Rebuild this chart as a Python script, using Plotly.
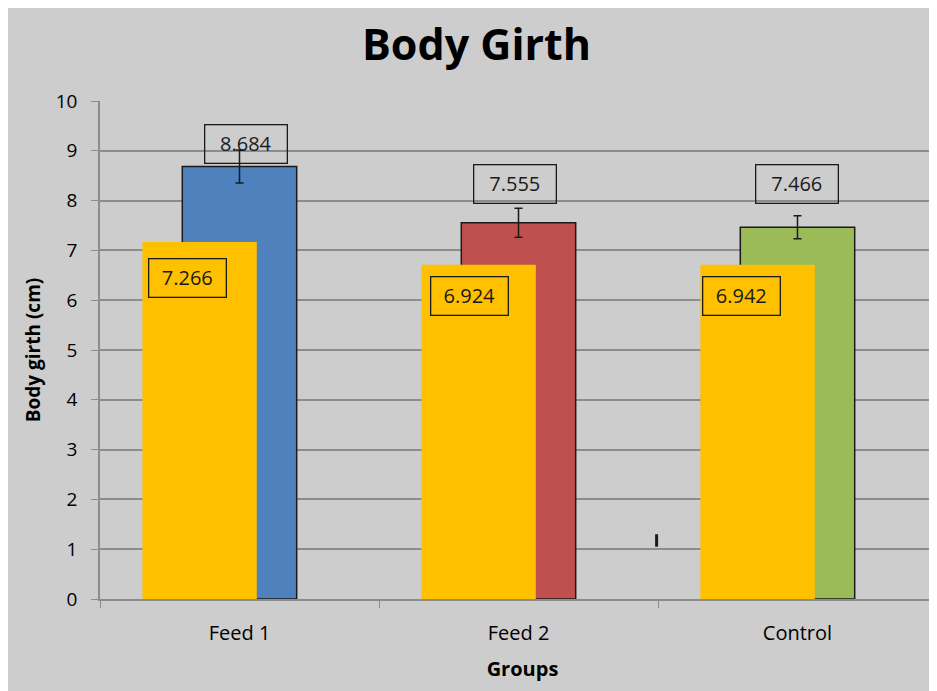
import plotly.graph_objects as go

categories = ["Feed 1", "Feed 2", "Control"]
main_values = [8.684, 7.555, 7.466]
main_errors = [0.33, 0.29, 0.23]
main_labels = ["8.684", "7.555", "7.466"]
overlay_heights = [7.17, 6.71, 6.71]
overlay_labels = ["7.266", "6.924", "6.942"]
y_ticks = [0, 1, 2, 3, 4, 5, 6, 7, 8, 9, 10]

main_colors = ["#4f81bd", "#c0504d", "#9bbb59"]
FONT = "Open Sans"

fig = go.Figure()
fig.add_trace(go.Bar(
    x=categories, y=main_values, width=0.41,
    marker=dict(color=main_colors, line=dict(color="#1a1a1a", width=1.5)),
    error_y=dict(type="data", array=main_errors, color="#1a1a1a", thickness=1.5, width=4),
    hoverinfo="skip", showlegend=False,
))
fig.add_trace(go.Bar(
    x=categories, y=overlay_heights, width=0.41, offset=-0.348,
    marker=dict(color="#ffc000", line=dict(width=0)),
    hoverinfo="skip", showlegend=False,
))

main_label_pos = [(6, 9.13), (-4, 8.33), (0, 8.33)]
overlay_label_pos = [(-52, 6.45), (-49, 6.08), (-56, 6.08)]
annotations = []
for i, cat in enumerate(categories):
    xs, yv = main_label_pos[i]
    annotations.append(dict(x=cat, y=yv, xref="x", yref="y", xshift=xs, text=main_labels[i],
                            showarrow=False, width=79, height=35, bordercolor="#1a1a1a", borderwidth=1.3,
                            font=dict(family=FONT, size=20, color="#1a1a1a")))
    xs, yv = overlay_label_pos[i]
    annotations.append(dict(x=cat, y=yv, xref="x", yref="y", xshift=xs, text=overlay_labels[i],
                            showarrow=False, width=74, height=35, bordercolor="#1a1a1a", borderwidth=1.3,
                            font=dict(family=FONT, size=20, color="#1a1a1a")))

fig.update_layout(
    width=937, height=691,
    margin=dict(l=92, r=0, t=93, b=100),
    paper_bgcolor="#cdcdcd", plot_bgcolor="#cdcdcd",
    barmode="overlay",
    title=dict(text="<b>Body Girth</b>", x=0.5, xanchor="center", y=0.946, yanchor="middle",
               font=dict(family=FONT, size=43, color="#000000")),
    annotations=annotations,
    shapes=[dict(type="line", xref="x", yref="y", x0=1.495, x1=1.495, y0=1.05, y1=1.3,
                 line=dict(color="#1a1a1a", width=3))],
    font=dict(family=FONT, color="#000000"),
)
fig.update_xaxes(
    range=[-0.5, 2.5287], tickson="boundaries", ticks="outside", ticklen=7, tickcolor="#8c8c8c",
    showline=True, linecolor="#8c8c8c", linewidth=1.5, showgrid=False,
    tickfont=dict(family=FONT, size=20, color="#000000"), ticklabelstandoff=15,
    title=dict(text="<b>Groups</b>", font=dict(family=FONT, size=20, color="#000000"), standoff=17),
)
fig.update_yaxes(
    range=[0, 10], tickvals=y_ticks, ticks="outside", ticklen=7, tickcolor="#8c8c8c",
    showline=True, linecolor="#8c8c8c", linewidth=1.5,
    showgrid=True, gridcolor="#8c8c8c", gridwidth=1.5, zeroline=False,
    tickfont=dict(family=FONT, size=19, color="#000000"), ticklabelstandoff=10,
    title=dict(text="<b>Body girth (cm)</b>", font=dict(family=FONT, size=19, color="#000000"), standoff=10),
)

fig.write_html("out.html")
